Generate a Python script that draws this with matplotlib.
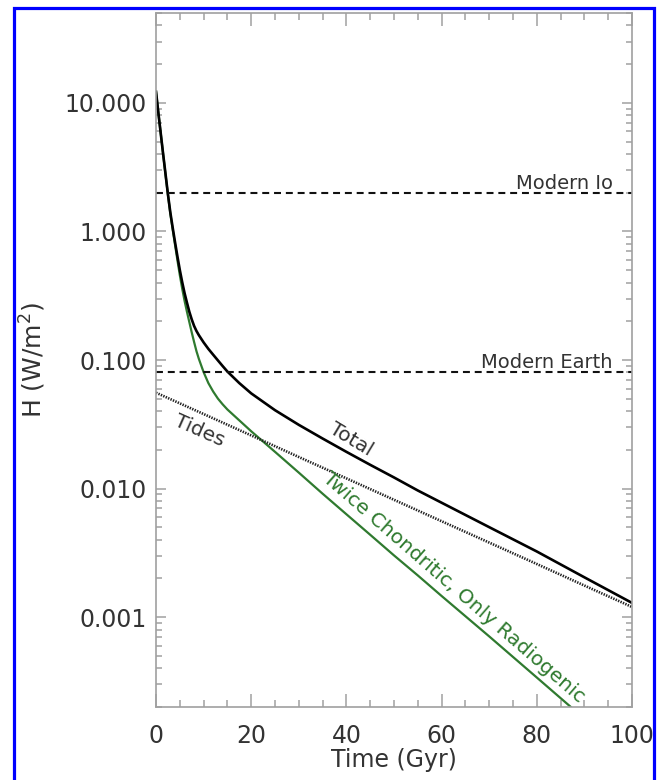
import matplotlib
matplotlib.use("Agg")
import matplotlib.pyplot as plt
from matplotlib.ticker import FixedLocator, LogLocator, MultipleLocator, FuncFormatter, NullFormatter
from matplotlib.patches import Rectangle

# time axis (Gyr) and surface heat flux (W/m^2)
time_gyr = [0, 0.5, 1, 1.5, 2, 2.5, 3, 3.5, 4, 4.5, 5, 5.5, 6, 6.5, 7, 7.5, 8, 8.5, 9,
            10, 11, 12, 13, 14, 15, 17.5, 20, 25, 30, 35, 40, 45, 50, 55, 60, 70, 80, 90, 100]
total_heat = [12.2, 8.32, 5.75, 3.98, 2.79, 1.95, 1.41, 1.07, 0.822, 0.638, 0.501, 0.403,
              0.331, 0.279, 0.237, 0.207, 0.184, 0.168, 0.156, 0.137, 0.122, 0.110, 0.0993,
              0.0897, 0.0813, 0.0661, 0.0550, 0.0407, 0.0313, 0.0245, 0.0193, 0.0153, 0.0122,
              0.00966, 0.00776, 0.00501, 0.00324, 0.00204, 0.00129]
radio_heat = [12.2, 8.32, 5.75, 3.98, 2.75, 1.93, 1.38, 1.035, 0.785, 0.596, 0.457, 0.359,
              0.288, 0.237, 0.197, 0.164, 0.138, 0.117, 0.102, 0.0804, 0.0661, 0.0569, 0.0501,
              0.0452, 0.0412, 0.0339, 0.0279, 0.0193, 0.0133, 0.00912, 0.00631, 0.00437, 0.00302,
              0.00211, 0.00146, 0.000708, 0.000339, 0.000162, 0.0000794]

tide_time = [0, 10, 20, 30, 40, 50, 60, 70, 80, 90, 100]
tide_heat = [0.0557, 0.0380, 0.0259, 0.0176, 0.0120, 0.00818, 0.00557, 0.00380, 0.00259, 0.00176, 0.00120]

io_level = 2.0
earth_level = 0.08

y_ticks = [0.001, 0.01, 0.1, 1.0, 10.0]
x_ticks = [0, 20, 40, 60, 80, 100]

plt.rcParams['lines.scale_dashes'] = False

fig = plt.figure(figsize=(6.6, 7.8), dpi=100)
ax = fig.add_axes([0.2364, 0.0936, 0.7212, 0.8897])

green = '#2f7a2f'
txt = '#333333'
axcol = '#a0a0a0'

ax.plot(time_gyr, radio_heat, color=green, lw=1.6)
ax.plot(tide_time, tide_heat, color='#222222', lw=1.9, dashes=(1.0, 0.9))
ax.plot(time_gyr, total_heat, color='black', lw=1.9)
ax.axhline(io_level, color='#111111', lw=1.5, dashes=(5, 3.5))
ax.axhline(earth_level, color='#111111', lw=1.5, dashes=(5, 3.5))

ax.set_yscale('log')
ax.set_xlim(0, 100)
ax.set_ylim(2e-4, 50)

ax.xaxis.set_major_locator(FixedLocator(x_ticks))
ax.xaxis.set_minor_locator(MultipleLocator(5))
ax.yaxis.set_major_locator(FixedLocator(y_ticks))
ax.yaxis.set_minor_locator(LogLocator(base=10, subs=range(2, 10)))
ax.yaxis.set_major_formatter(FuncFormatter(lambda v, p: '%.3f' % v))
ax.yaxis.set_minor_formatter(NullFormatter())

ax.tick_params(which='both', direction='in', top=True, right=True,
               colors=axcol, labelcolor=txt, labelsize=17, width=1.1)
ax.tick_params(axis='x', which='major', length=9.5, pad=12.5)
ax.tick_params(axis='x', which='minor', length=5)
ax.tick_params(axis='y', which='major', length=7, pad=6.5)
ax.tick_params(axis='y', which='minor', length=4)
for s in ax.spines.values():
    s.set_color(axcol)
    s.set_linewidth(1.2)

ax.set_xlabel('Time (Gyr)', fontsize=17, color=txt)
ax.xaxis.set_label_coords(0.5, -0.059)
ax.set_ylabel('H (W/m$^2$)', fontsize=18, color=txt)
ax.yaxis.set_label_coords(-0.226, 0.5)

# curve labels
ax.text(96, io_level, 'Modern Io', ha='right', va='bottom', fontsize=14, color=txt)
ax.text(96, earth_level, 'Modern Earth', ha='right', va='bottom', fontsize=14, color=txt)
ax.text(9.2, 0.028, 'Tides', fontsize=14.5, color=txt, rotation=-24,
        ha='center', va='center', rotation_mode='anchor')
ax.text(41, 0.0243, 'Total', fontsize=14.5, color=txt, rotation=-31,
        ha='center', va='center', rotation_mode='anchor')
ax.text(62.6, 0.0017, 'Twice Chondritic, Only Radiogenic', fontsize=14.5, color=green,
        rotation=-41, ha='center', va='center', rotation_mode='anchor')

# blue frame around the figure
fig.patches.append(Rectangle((13.7 / 660, -0.01), (654.3 - 13.7) / 660, 1.01 - 8.3 / 780,
                             transform=fig.transFigure, fill=False,
                             edgecolor='#0000ff', lw=2.3))

fig.savefig('out.png', dpi=100)
